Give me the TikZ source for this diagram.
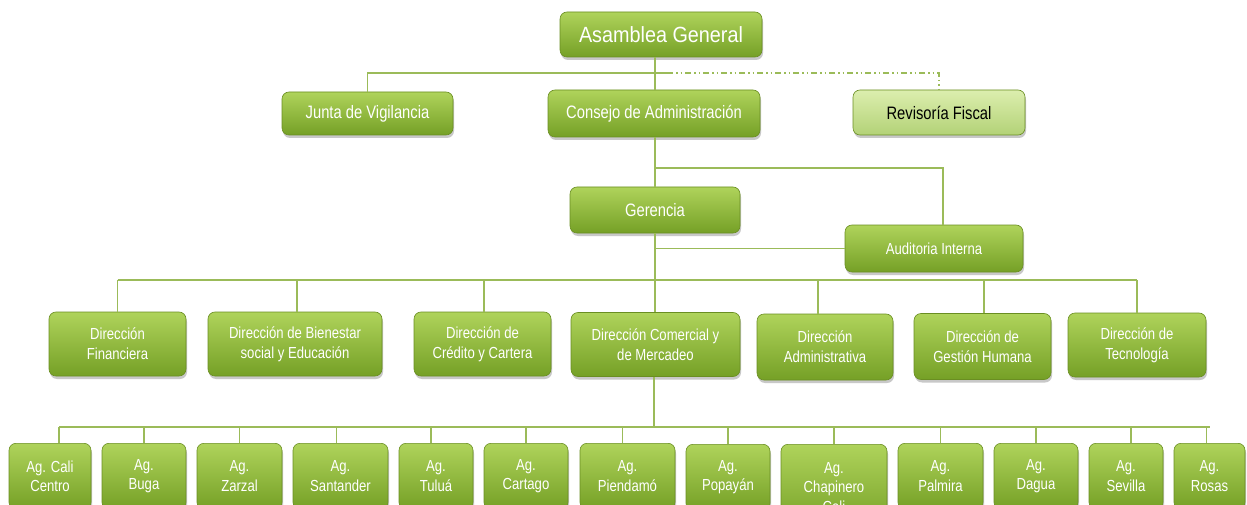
\documentclass[tikz,border=0pt]{standalone}
\usepackage{fontspec}
\setmainfont{Liberation Sans}
\newfontfamily\nar[FakeStretch=0.82]{Liberation Sans}
\newfontfamily\topf[FakeStretch=0.9]{Liberation Sans}
\usetikzlibrary{shadows}
\definecolor{gtop}{HTML}{AFD35B}
\definecolor{gmid}{HTML}{8EB93B}
\definecolor{gbot}{HTML}{75A026}
\definecolor{gedge}{HTML}{6A8E22}
\definecolor{lnc}{HTML}{9BBB59}
\definecolor{ltop}{HTML}{DCEEAE}
\definecolor{lbot}{HTML}{B3D277}
\tikzset{
  box/.style={rounded corners=7pt, draw=gedge, line width=0.6pt,
    top color=gtop, middle color=gmid, bottom color=gbot,
    text=white, align=center, inner sep=2pt,
    general shadow={fill=black!70, opacity=0.3, shadow xshift=1pt, shadow yshift=-3pt}},
  lightbox/.style={box, top color=ltop, middle color=ltop!50!lbot, bottom color=lbot, text=black},
  lvtwo/.style={font=\nar\fontsize{18}{22}\selectfont},
  dirbox/.style={box, minimum height=64, font=\nar\fontsize{16}{20}\selectfont},
  agbox/.style={box, anchor=north, minimum height=66, font=\nar\fontsize{16}{19.5}\selectfont},
  conn/.style={draw=lnc, line width=1.5pt},
  dotconn/.style={draw=lnc, line width=1.2pt, dash pattern=on 6pt off 3pt on 1.5pt off 3pt on 1.5pt off 3pt}
}
\begin{document}
\begin{tikzpicture}[x=1pt,y=-1pt]
\path[use as bounding box] (0,0) rectangle (1247,505);
\clip (0,0) rectangle (1247,505);
\fill[white] (0,0) rectangle (1247,505);

% top levels
\node[box, font=\topf\fontsize{22}{26}\selectfont, minimum width=202, minimum height=45] (asam) at (661,34.5) {Asamblea General};
\node[box, lvtwo, minimum width=171, minimum height=43] (junta) at (367.5,113.5) {Junta de Vigilancia};
\node[box, lvtwo, minimum width=212, minimum height=47] (consejo) at (654,113.5) {Consejo de Administración};
\node[lightbox, lvtwo, minimum width=172, minimum height=45] (revis) at (939,112.5) {Revisoría Fiscal};
\node[box, lvtwo, minimum width=170, minimum height=46] (ger) at (655,210) {Gerencia};
\node[box, font=\nar\fontsize{16}{20}\selectfont, minimum width=178, minimum height=47] (aud) at (934,248.5) {Auditoria Interna};

% direcciones
\node[dirbox, minimum width=137] (fin) at (117.5,344) {Dirección\\Financiera};
\node[dirbox, minimum width=174] (bien) at (295,344) {Dirección de Bienestar\\social y Educación};
\node[dirbox, minimum width=137] (cred) at (482.5,344) {Dirección de\\Crédito y Cartera};
\node[dirbox, minimum width=169] (com) at (655.5,344.5) {Dirección Comercial y\\de Mercadeo};
\node[dirbox, minimum width=136, minimum height=66] (adm) at (825,347) {Dirección\\Administrativa};
\node[dirbox, minimum width=137, minimum height=66] (ges) at (982.5,346.5) {Dirección de\\Gestión Humana};
\node[dirbox, minimum width=138] (tec) at (1137,345) {Dirección de\\Tecnología};

% agencias
\node[agbox, minimum width=82] (cali) at (50,443) {Ag. Cali\\Centro};
\node[agbox, minimum width=84] (buga) at (144,443) {Ag.\\Buga};
\node[agbox, minimum width=85] (zarzal) at (239.5,443) {Ag.\\Zarzal};
\node[agbox, minimum width=95] (sant) at (340.5,443) {Ag.\\Santander};
\node[agbox, minimum width=74] (tulua) at (436,443) {Ag.\\Tuluá};
\node[agbox, minimum width=84] (cartago) at (526,443) {Ag.\\Cartago};
\node[agbox, minimum width=95] (piend) at (627.5,443) {Ag.\\Piendamó};
\node[agbox, minimum width=84] (popa) at (728,444) {Ag.\\Popayán};
\node[agbox, minimum width=106, minimum height=86] (chap) at (834,444) {Ag.\\Chapinero\\Cali};
\node[agbox, minimum width=85] (palm) at (940.5,443) {Ag.\\Palmira};
\node[agbox, minimum width=84] (dagua) at (1036,443) {Ag.\\Dagua};
\node[agbox, minimum width=74] (sev) at (1126,443) {Ag.\\Sevilla};
\node[agbox, minimum width=71] (rosas) at (1209.5,443) {Ag.\\Rosas};

% junctions
\coordinate (tb) at (655,73);
\coordinate (gj) at (655,168);
\coordinate (db) at (655,280);
\coordinate (ab) at (654,427);

% connectors top
\draw[conn] (consejo.north -| tb) -- (tb) -- (tb |- asam.south);
\draw[conn] (junta.north) |- ([xshift=12pt]tb);
\draw[dotconn] ([xshift=12pt]tb) -| (revis.north);
\draw[conn] (consejo.south -| gj) -- (ger.north -| gj);
\draw[conn] (gj) -| ([xshift=9pt]aud.north);
\draw[conn] (ger.south -| db) -- (db);
\draw[conn] (ger.south |- aud.west) -- (aud.west);

% direcciones bus
\draw[conn] (fin.north |- db) -- (tec.north |- db);
\draw[conn] (fin.north) -- (fin.north |- db);
\draw[conn] ([xshift=2pt]bien.north) -- ([xshift=2pt]bien.north |- db);
\draw[conn] ([xshift=1.5pt]cred.north) -- ([xshift=1.5pt]cred.north |- db);
\draw[conn] (com.north -| db) -- (db);
\draw[conn] ([xshift=-7pt]adm.north) -- ([xshift=-7pt]adm.north |- db);
\draw[conn] ([xshift=1.5pt]ges.north) -- ([xshift=1.5pt]ges.north |- db);
\draw[conn] (tec.north) -- (tec.north |- db);

% agencias bus
\draw[conn] (com.south -| ab) -- (ab);
\draw[conn] ([xshift=9pt]cali.north |- ab) -- (rosas.north |- ab);
\draw[conn] ([xshift=9pt]cali.north) -- ([xshift=9pt]cali.north |- ab);
\draw[conn] (buga.north) -- (buga.north |- ab);
\draw[conn] (zarzal.north) -- (zarzal.north |- ab);
\draw[conn] ([xshift=-4pt]sant.north) -- ([xshift=-4pt]sant.north |- ab);
\draw[conn] ([xshift=-5pt]tulua.north) -- ([xshift=-5pt]tulua.north |- ab);
\draw[conn] (cartago.north) -- (cartago.north |- ab);
\draw[conn] ([xshift=-5pt]piend.north) -- ([xshift=-5pt]piend.north |- ab);
\draw[conn] (popa.north) -- (popa.north |- ab);
\draw[conn] (chap.north) -- (chap.north |- ab);
\draw[conn] (palm.north) -- (palm.north |- ab);
\draw[conn] (dagua.north) -- (dagua.north |- ab);
\draw[conn] ([xshift=5pt]sev.north) -- ([xshift=5pt]sev.north |- ab);
\draw[conn] ([xshift=-3pt]rosas.north) -- ([xshift=-3pt]rosas.north |- ab);
\end{tikzpicture}
\end{document}
